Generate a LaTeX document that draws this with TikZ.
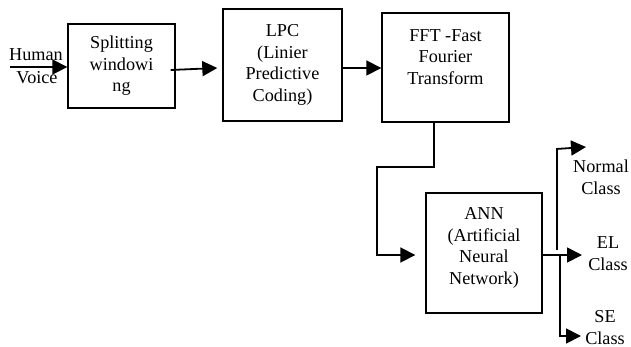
\documentclass[tikz,border=0pt]{standalone}
\usepackage{fontspec}
\setmainfont{Liberation Serif}
\usetikzlibrary{arrows.meta,calc}

\begin{document}
\begin{tikzpicture}[x=1pt,y=-1pt,
  every node/.style={font=\fontsize{18.2}{21.5}\selectfont, inner sep=0pt},
  blockbox/.style={draw, line width=1.4pt, align=center},
  txt/.style={align=center},
  arr/.style={line width=1.8pt, -{Triangle[length=15pt,width=15pt]}},
  wire/.style={line width=1.8pt}
]
\useasboundingbox (0,0) rectangle (631,347);

% processing blocks
\node[blockbox, minimum width=107pt, minimum height=84pt] (split) at (121.5,66)
  {Splitting\\windowi\\ng};
\node[blockbox, minimum width=119pt, minimum height=112pt] (lpc) at (282.5,65)
  {LPC\\(Linier\\Predictive\\Coding)};
\node[blockbox, minimum width=127pt, minimum height=109pt] (fft) at (445.5,67.5) {};
\node[txt] (fftt) at (445.5,57) {FFT -Fast\\Fourier\\Transform};
\node[blockbox, minimum width=116pt, minimum height=120pt] (ann) at (484,253) {};
\node[txt] (annt) at (484,248) {ANN\\(Artificial\\Neural\\Network)};

% input
\node[txt] (human) at (36,55) {Human};
\node[txt] (voice) at (37,78) {Voice};
\coordinate (in) at (10,67);
\draw[arr] (in) -- (split.west |- in);

% chain between blocks
\draw[arr] ($(split.east)+(-5,4)$) -- ($(lpc.west)+(-5,3)$);
\draw[arr] ($(lpc.east)+(0,3)$) -- ($(fft.west)+(0,0.5)$);
\coordinate (bend) at (377,167);
\draw[arr] ($(fft.south)+(-11.5,0)$) |- (bend) |- ($(ann.west)+(-10,2)$);

% classifier outputs
\coordinate (elc) at (582,255);
\draw[arr] ($(ann.east)+(-2,2)$) -- (elc);
\coordinate (upfoot) at (557,250);
\coordinate (uptop) at (557,149);
\coordinate (normc) at (586,147);
\draw[wire] (upfoot) -- (uptop);
\draw[arr] ([xshift=-0.9pt]uptop) -- (normc);
\coordinate (dnfoot) at (560,255);
\coordinate (dnbot) at (560,336);
\coordinate (sec) at (581,336);
\draw[wire] (dnfoot) -- (dnbot);
\draw[arr] ([xshift=-0.9pt]dnbot) -- (sec);

% class labels
\node[txt] (normal) at (601,177.5) {Normal\\Class};
\node[txt] (el) at (608,253.5) {EL\\Class};
\node[txt] (se) at (605,327.5) {SE\\Class};
\end{tikzpicture}
\end{document}
